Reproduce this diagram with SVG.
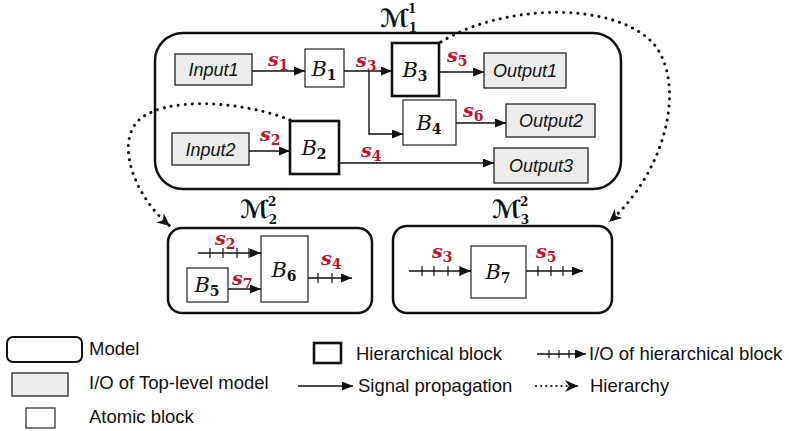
<svg xmlns="http://www.w3.org/2000/svg" width="789" height="431" viewBox="0 0 789 431">
<defs>
<style>
.model{fill:#fff;stroke:#111;stroke-width:2.5}
.io{fill:#ececec;stroke:#222;stroke-width:1.3}
.atom{fill:#fff;stroke:#222;stroke-width:1.2}
.hier{fill:#fff;stroke:#111;stroke-width:2.6}
.wire{fill:none;stroke:#111;stroke-width:1.4}
.tick{stroke:#111;stroke-width:1.2}
.dot{fill:none;stroke:#111;stroke-width:3;stroke-dasharray:0.1 7;stroke-linecap:round}
.iot{font-family:"Liberation Sans",Arial,sans-serif;font-style:italic;font-size:18px;fill:#111}
.blk{font-family:"DejaVu Serif","Liberation Serif",serif;font-style:italic;font-size:21px;fill:#111}
.sub{font-size:14px;font-style:normal;font-weight:bold}
.sig{font-family:"DejaVu Serif","Liberation Serif",serif;font-style:italic;font-weight:bold;font-size:19px;fill:#c4102c}
.ssub{font-size:14px;font-style:normal}
.ttl{font-family:"DejaVu Serif","DejaVu Sans",serif;font-size:25px;font-weight:bold;fill:#111}
.tsub{font-size:12px}
.leg{font-family:"Liberation Sans",Arial,sans-serif;font-size:18.5px;fill:#111}
</style>
<marker id="ah" markerWidth="11" markerHeight="9" refX="11" refY="4.5" orient="auto" markerUnits="userSpaceOnUse">
<path d="M0,0 L11,4.5 L0,9 z" fill="#111"/>
</marker>
<marker id="hh" markerWidth="14" markerHeight="12" refX="13" refY="6" orient="auto" markerUnits="userSpaceOnUse">
<path d="M0,0 L13,6 L0,12 L4,6 z" fill="#111"/>
</marker>
</defs>
<rect width="789" height="431" fill="#fff"/>

<!-- Models -->
<g id="M1">
<rect class="model" x="155" y="33" width="466" height="156" rx="28"/>
<text class="ttl" x="380" y="27">ℳ<tspan class="tsub" dx="-1.5" dy="-14">1</tspan><tspan class="tsub" dx="-7.7" dy="19">1</tspan></text>
</g>
<g id="M2">
<rect class="model" x="168" y="228" width="204" height="85" rx="14"/>
<text class="ttl" x="240" y="218">ℳ<tspan class="tsub" dx="-1.5" dy="-12">2</tspan><tspan class="tsub" dx="-7.7" dy="18">2</tspan></text>
</g>
<g id="M3">
<rect class="model" x="393" y="226" width="219" height="87" rx="14"/>
<text class="ttl" x="492" y="218">ℳ<tspan class="tsub" dx="-1.5" dy="-12">2</tspan><tspan class="tsub" dx="-7.7" dy="18">3</tspan></text>
</g>

<!-- I/O -->
<g id="Input1"><rect class="io" x="175" y="54" width="77" height="31"/><text class="iot" x="213.5" y="76" text-anchor="middle">Input1</text></g>
<g id="Input2"><rect class="io" x="172" y="133" width="77" height="32"/><text class="iot" x="210.5" y="156" text-anchor="middle">Input2</text></g>
<g id="Output1"><rect class="io" x="484" y="53" width="82" height="35"/><text class="iot" x="525" y="77" text-anchor="middle">Output1</text></g>
<g id="Output2"><rect class="io" x="506" y="104" width="89" height="33"/><text class="iot" x="551" y="127" text-anchor="middle">Output2</text></g>
<g id="Output3"><rect class="io" x="494" y="148" width="94" height="35"/><text class="iot" x="541" y="172" text-anchor="middle">Output3</text></g>

<!-- Blocks -->
<g id="B1"><rect class="atom" x="305" y="49" width="39" height="38"/><text class="blk" x="324" y="76" text-anchor="middle">B<tspan class="sub" dy="4">1</tspan></text></g>
<g id="B3"><rect class="hier" x="392" y="43" width="47" height="53"/><text class="blk" x="415" y="77" text-anchor="middle">B<tspan class="sub" dy="4">3</tspan></text></g>
<g id="B4"><rect class="atom" x="403" y="100" width="53" height="45"/><text class="blk" x="429" y="130" text-anchor="middle">B<tspan class="sub" dy="4">4</tspan></text></g>
<g id="B2"><rect class="hier" x="290" y="121" width="49" height="53"/><text class="blk" x="314" y="155" text-anchor="middle">B<tspan class="sub" dy="4">2</tspan></text></g>
<g id="B6"><rect class="atom" x="261" y="236" width="47" height="66"/><text class="blk" x="284" y="277" text-anchor="middle">B<tspan class="sub" dy="4">6</tspan></text></g>
<g id="B5"><rect class="atom" x="187" y="268" width="41" height="34"/><text class="blk" x="207" y="292" text-anchor="middle">B<tspan class="sub" dy="4">5</tspan></text></g>
<g id="B7"><rect class="atom" x="471" y="246" width="55" height="52"/><text class="blk" x="498" y="279" text-anchor="middle">B<tspan class="sub" dy="4">7</tspan></text></g>

<!-- Connectors -->
<g id="connectors">
<line class="wire" x1="252" y1="71" x2="305" y2="71" marker-end="url(#ah)"/>
<line class="wire" x1="344" y1="71" x2="392" y2="71" marker-end="url(#ah)"/>
<polyline class="wire" points="369,71 369,134 403,134" marker-end="url(#ah)"/>
<line class="wire" x1="439" y1="72" x2="484" y2="72" marker-end="url(#ah)"/>
<line class="wire" x1="456" y1="123" x2="506" y2="123" marker-end="url(#ah)"/>
<line class="wire" x1="249" y1="151" x2="290" y2="151" marker-end="url(#ah)"/>
<line class="wire" x1="339" y1="163" x2="494" y2="163" marker-end="url(#ah)"/>

<line class="wire" x1="198" y1="253" x2="261" y2="253" marker-end="url(#ah)"/>
<path class="tick" d="M210,248v10M223,248v10M237,248v10M249,248v10"/>
<line class="wire" x1="228" y1="289" x2="261" y2="289" marker-end="url(#ah)"/>
<line class="wire" x1="308" y1="278" x2="352" y2="278" marker-end="url(#ah)"/>
<path class="tick" d="M318,273v10M332,273v10"/>

<line class="wire" x1="409" y1="271" x2="471" y2="271" marker-end="url(#ah)"/>
<path class="tick" d="M422,266v10M434,266v10M448,266v10M460,266v10"/>
<line class="wire" x1="526" y1="271" x2="583" y2="271" marker-end="url(#ah)"/>
<path class="tick" d="M538,266v10M551,266v10M563,266v10"/>

<path class="dot" d="M290,120 C240,100 160,96 137,122 C115,148 138,200 170,226" marker-end="url(#hh)"/>
<path class="dot" d="M441,42 C500,5 610,0 652,42 C687,80 668,170 609,222" marker-end="url(#hh)"/>
</g>

<!-- Signal labels -->
<g id="labels">
<text class="sig" x="268" y="66">s<tspan class="ssub" dy="4">1</tspan></text>
<text class="sig" x="356" y="67">s<tspan class="ssub" dy="4">3</tspan></text>
<text class="sig" x="447" y="62">s<tspan class="ssub" dy="4">5</tspan></text>
<text class="sig" x="463" y="117">s<tspan class="ssub" dy="4">6</tspan></text>
<text class="sig" x="260" y="141">s<tspan class="ssub" dy="4">2</tspan></text>
<text class="sig" x="361" y="157">s<tspan class="ssub" dy="4">4</tspan></text>
<text class="sig" x="215" y="245">s<tspan class="ssub" dy="4">2</tspan></text>
<text class="sig" x="232" y="285">s<tspan class="ssub" dy="4">7</tspan></text>
<text class="sig" x="321" y="265">s<tspan class="ssub" dy="4">4</tspan></text>
<text class="sig" x="432" y="258">s<tspan class="ssub" dy="4">3</tspan></text>
<text class="sig" x="536" y="258">s<tspan class="ssub" dy="4">5</tspan></text>
</g>

<!-- Legend -->
<g id="legend">
<rect class="model" x="7" y="337" width="75" height="25" rx="6" style="stroke-width:2"/>
<text class="leg" x="89" y="355">Model</text>
<rect class="io" x="12" y="373" width="56" height="23"/>
<text class="leg" x="89" y="389">I/O of Top-level model</text>
<rect class="atom" x="26" y="408" width="29" height="20"/>
<text class="leg" x="89" y="423">Atomic block</text>
<rect class="hier" x="314" y="343" width="27" height="20"/>
<text class="leg" x="356" y="360">Hierarchical block</text>
<line class="wire" x1="537" y1="354" x2="586" y2="354" marker-end="url(#ah)"/>
<path class="tick" d="M549,350v8M559,350v8M569,350v8"/>
<text class="leg" x="589" y="360">I/O of hierarchical block</text>
<line class="wire" x1="298" y1="386" x2="353" y2="386" marker-end="url(#ah)"/>
<text class="leg" x="358" y="392">Signal propagation</text>
<line class="dot" x1="536" y1="386" x2="578" y2="386" style="stroke-width:2.2;stroke-dasharray:0.1 5" marker-end="url(#hh)"/>
<text class="leg" x="590" y="392">Hierarchy</text>
</g>
</svg>
